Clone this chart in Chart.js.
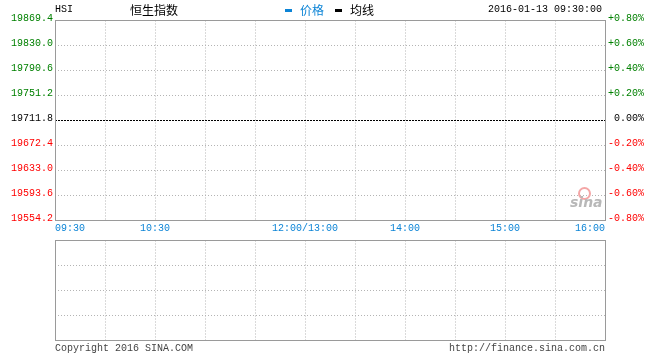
<!DOCTYPE html>
<html>
<head>
<meta charset="utf-8">
<script src="https://cdn.jsdelivr.net/npm/chart.js@4"></script>
<style>
  body { margin: 0; background: #fff; }
  #wrap { position: relative; width: 660px; height: 360px; overflow: hidden; font-family: "Liberation Mono", "DejaVu Sans Mono", monospace; font-size: 10px; }
  .txt { position: absolute; white-space: nowrap; line-height: 12px; }
  .cjk { font-family: "Noto Sans CJK SC", sans-serif; font-size: 12px; line-height: 14px; }
  .mark { position: absolute; width: 7px; height: 3px; }
  #c1 { position: absolute; left: 0; top: 0; }
  #c2 { position: absolute; left: 0; top: 230px; }
</style>
</head>
<body>
<div id="wrap">
  <canvas id="c1" width="660" height="240"></canvas>
  <canvas id="c2" width="660" height="120"></canvas>
  <div class="txt" style="left:55px;top:4px;">HSI</div>
  <div class="txt cjk" style="left:130px;top:3px;">恒生指数</div>
  <div class="mark" style="left:285px;top:9px;background:#0c84d6;"></div>
  <div class="txt cjk" style="left:300px;top:3px;color:#0c84d6;">价格</div>
  <div class="mark" style="left:335px;top:9px;background:#000;"></div>
  <div class="txt cjk" style="left:350px;top:3px;">均线</div>
  <div class="txt" style="left:488px;top:4px;">2016-01-13 09:30:00</div>
  <div class="txt" style="left:55px;top:343px;color:#444;">Copyright 2016 SINA.COM</div>
  <div class="txt" style="right:55px;top:343px;color:#444;">http://finance.sina.com.cn</div>
  <div style="position:absolute;left:578px;top:187px;width:9px;height:9px;border-radius:50%;border:2px solid #f4a6a6;"></div>
  <div class="txt" style="left:570px;top:194px;font:italic bold 14px 'DejaVu Sans',sans-serif;color:#b8b8b8;">sina</div>
</div>
<script>
// session minutes from 09:30 (lunch break removed)
const timeTicks = [0, 30, 60, 90, 120, 150, 180, 210, 240, 270, 300, 330];
const timeLabels = { 0: '09:30', 60: '10:30', 150: '12:00/13:00', 210: '14:00', 270: '15:00', 330: '16:00' };
const prevClose = 19711.8;
const priceTicks = [19554.2, 19593.6, 19633.0, 19672.4, 19711.8, 19751.2, 19790.6, 19830.0, 19869.4];
const pctTicks = [-0.8, -0.6, -0.4, -0.2, 0, 0.2, 0.4, 0.6, 0.8];
const prices = [];
const avgPrices = [];
const volumes = [];
const volTicks = [0, 1, 2, 3, 4];

const gridColor = '#b4b4b4';
const tickFont = { family: 'Liberation Mono', size: 10 };

function fixWidth(w) {
  return function (scale) { scale.width = w; };
}

function setTicks(list) {
  return function (scale) { scale.ticks = list.map(v => ({ value: v })); };
}

function priceColor(ctx) {
  const v = ctx.tick.value;
  if (Math.abs(v - prevClose) < 0.01) return '#000';
  return v > prevClose ? '#008000' : '#ff0000';
}

function pctColor(ctx) {
  const v = ctx.tick.value;
  if (Math.abs(v) < 0.001) return '#000';
  return v > 0 ? '#008000' : '#ff0000';
}

// gray frame round the plot area
const frame = {
  id: 'frame',
  afterDraw(chart) {
    const a = chart.chartArea;
    const c = chart.ctx;
    c.save();
    c.strokeStyle = '#9a9a9a';
    c.lineWidth = 1;
    c.strokeRect(Math.round(a.left) + 0.5, Math.floor(a.top) + 0.5, Math.round(a.right - a.left), Math.round(a.bottom - a.top));
    c.restore();
  }
};

const xScale = (showLabels, h) => ({
  type: 'linear',
  min: 0,
  max: 330,
  offset: false,
  afterBuildTicks: setTicks(timeTicks),
  afterFit: function (scale) { scale.height = h; },
  grid: { color: gridColor, drawTicks: false, offset: false },
  border: { display: false, dash: [1, 2] },
  ticks: {
    display: showLabels,
    autoSkip: false,
    maxRotation: 0,
    align: 'inner',
    padding: 2,
    font: tickFont,
    color: '#0c84d6',
    callback: v => timeLabels[v] || ''
  }
});

new Chart(document.getElementById('c1'), {
  type: 'line',
  data: {
    datasets: [
      { label: '价格', data: prices, borderColor: '#0c84d6', borderWidth: 1, pointRadius: 0 },
      { label: '均线', data: avgPrices, borderColor: '#000', borderWidth: 1, pointRadius: 0 },
      {
        label: 'prev',
        data: [{ x: 0, y: prevClose }, { x: 330, y: prevClose }],
        borderColor: '#000',
        borderWidth: 1,
        borderDash: [2, 1],
        pointRadius: 0
      }
    ]
  },
  options: {
    responsive: false,
    animation: false,
    parsing: false,
    layout: { padding: { top: 20.5, left: 0, right: 16, bottom: 0 } },
    plugins: { legend: { display: false }, tooltip: { enabled: false } },
    scales: {
      x: xScale(true, 19.5),
      y: {
        position: 'left',
        min: priceTicks[0],
        max: priceTicks[priceTicks.length - 1],
        afterBuildTicks: setTicks(priceTicks),
        afterFit: fixWidth(55),
        grid: { color: gridColor, drawTicks: false },
        border: { display: false, dash: [1, 2] },
        ticks: { font: tickFont, color: priceColor, padding: 2, labelOffset: -2, callback: v => v.toFixed(1) }
      },
      y2: {
        position: 'right',
        min: pctTicks[0],
        max: pctTicks[pctTicks.length - 1],
        afterBuildTicks: setTicks(pctTicks),
        afterFit: fixWidth(39),
        grid: { display: false, drawTicks: false },
        border: { display: false },
        ticks: {
          font: tickFont,
          color: pctColor,
          padding: 2,
          labelOffset: -2,
          crossAlign: 'far',
          callback: v => (v > 0.001 ? '+' : '') + v.toFixed(2) + '%'
        }
      }
    }
  },
  plugins: [frame]
});

new Chart(document.getElementById('c2'), {
  type: 'bar',
  data: { datasets: [{ label: 'vol', data: volumes, backgroundColor: '#0c84d6' }] },
  options: {
    responsive: false,
    animation: false,
    parsing: false,
    layout: { padding: { top: 10.5, left: 0, right: 0, bottom: 0 } },
    plugins: { legend: { display: false }, tooltip: { enabled: false } },
    scales: {
      x: xScale(false, 9.5),
      y: {
        position: 'left',
        min: 0,
        max: 4,
        afterBuildTicks: setTicks(volTicks),
        afterFit: fixWidth(55),
        grid: { color: gridColor, drawTicks: false },
        border: { display: false, dash: [1, 2] },
        ticks: { display: false }
      },
      y2: {
        position: 'right',
        min: 0,
        max: 4,
        afterFit: fixWidth(55),
        grid: { display: false, drawTicks: false },
        border: { display: false },
        ticks: { display: false }
      }
    }
  },
  plugins: [frame]
});
</script>
</body>
</html>
